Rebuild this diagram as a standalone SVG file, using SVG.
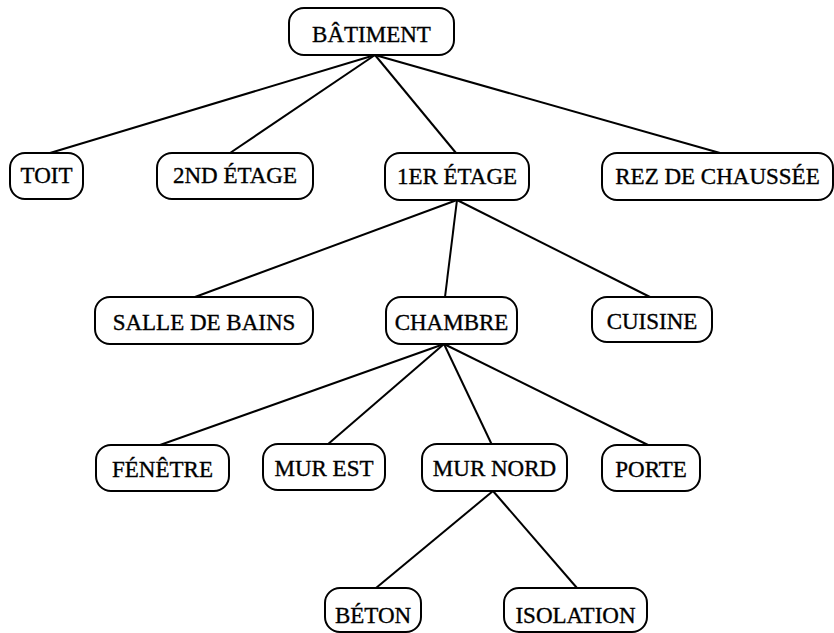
<svg xmlns="http://www.w3.org/2000/svg" width="834" height="633" viewBox="0 0 834 633">
  <style>
    .box { fill: #ffffff; stroke: #000000; stroke-width: 2; }
    .lbl { font-family: "Liberation Serif", "Times New Roman", serif; font-size: 23px; fill: #000000; stroke: #000000; stroke-width: 0.35; text-anchor: middle; }
    .edge { stroke: #000000; stroke-width: 2; fill: none; }
  </style>
  <rect width="834" height="633" fill="#ffffff"/>

  <!-- connectors -->
  <g id="connectors">
    <line class="edge" x1="375" y1="55" x2="50" y2="153"/>
    <line class="edge" x1="375" y1="55" x2="230" y2="153"/>
    <line class="edge" x1="375" y1="55" x2="456" y2="153"/>
    <line class="edge" x1="375" y1="55" x2="720" y2="153"/>

    <line class="edge" x1="457" y1="200" x2="195" y2="297"/>
    <line class="edge" x1="457" y1="200" x2="445" y2="297"/>
    <line class="edge" x1="457" y1="200" x2="650" y2="297"/>

    <line class="edge" x1="444" y1="344" x2="160" y2="445"/>
    <line class="edge" x1="444" y1="344" x2="327" y2="445"/>
    <line class="edge" x1="444" y1="344" x2="492" y2="445"/>
    <line class="edge" x1="444" y1="344" x2="648" y2="445"/>

    <line class="edge" x1="493" y1="491" x2="376" y2="588"/>
    <line class="edge" x1="493" y1="491" x2="577" y2="588"/>
  </g>

  <!-- level 0 -->
  <g id="batiment">
    <rect class="box" x="289" y="8" width="165" height="47" rx="15"/>
    <text class="lbl" x="371.5" y="42">BÂTIMENT</text>
  </g>

  <!-- level 1 -->
  <g id="toit">
    <rect class="box" x="10" y="153" width="73" height="46" rx="15"/>
    <text class="lbl" x="46.5" y="183">TOIT</text>
  </g>
  <g id="etage2">
    <rect class="box" x="157" y="153" width="156" height="46" rx="15"/>
    <text class="lbl" x="235" y="183">2ND ÉTAGE</text>
  </g>
  <g id="etage1">
    <rect class="box" x="385" y="153" width="144" height="47" rx="15"/>
    <text class="lbl" x="457" y="184">1ER ÉTAGE</text>
  </g>
  <g id="rez">
    <rect class="box" x="602" y="153" width="231" height="47" rx="15"/>
    <text class="lbl" x="717.5" y="184">REZ DE CHAUSSÉE</text>
  </g>

  <!-- level 2 -->
  <g id="salle-de-bains">
    <rect class="box" x="95" y="297" width="218" height="47" rx="15"/>
    <text class="lbl" x="204" y="330">SALLE DE BAINS</text>
  </g>
  <g id="chambre">
    <rect class="box" x="386" y="297" width="131" height="47" rx="15"/>
    <text class="lbl" x="451.5" y="330">CHAMBRE</text>
  </g>
  <g id="cuisine">
    <rect class="box" x="592" y="297" width="120" height="45" rx="15"/>
    <text class="lbl" x="652" y="329">CUISINE</text>
  </g>

  <!-- level 3 -->
  <g id="fenetre">
    <rect class="box" x="96" y="445" width="133" height="46" rx="15"/>
    <text class="lbl" x="162.5" y="477">FÉNÊTRE</text>
  </g>
  <g id="mur-est">
    <rect class="box" x="263" y="444" width="122" height="46" rx="15"/>
    <text class="lbl" x="324" y="476">MUR EST</text>
  </g>
  <g id="mur-nord">
    <rect class="box" x="422" y="444" width="145" height="47" rx="15"/>
    <text class="lbl" x="494.5" y="476">MUR NORD</text>
  </g>
  <g id="porte">
    <rect class="box" x="602" y="445" width="98" height="46" rx="15"/>
    <text class="lbl" x="651" y="477">PORTE</text>
  </g>

  <!-- level 4 -->
  <g id="beton">
    <rect class="box" x="325" y="588" width="96" height="44" rx="15"/>
    <text class="lbl" x="373" y="623">BÉTON</text>
  </g>
  <g id="isolation">
    <rect class="box" x="504" y="588" width="143" height="44" rx="15"/>
    <text class="lbl" x="575.5" y="623">ISOLATION</text>
  </g>
</svg>
